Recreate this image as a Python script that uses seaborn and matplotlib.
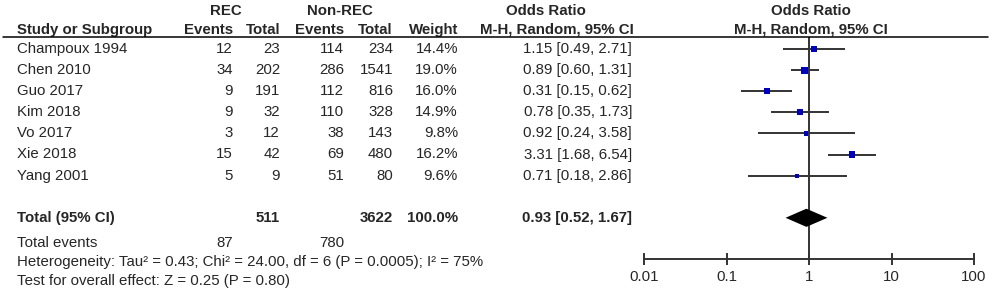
import numpy as np
import pandas as pd
import matplotlib
matplotlib.use("Agg")
import matplotlib.pyplot as plt
import matplotlib.transforms as mtransforms
from matplotlib.lines import Line2D
import seaborn as sns

# study-level data
studies = ["Champoux 1994", "Chen 2010", "Guo 2017", "Kim 2018", "Vo 2017", "Xie 2018", "Yang 2001"]
rec_events = [12, 34, 9, 9, 3, 15, 5]
rec_total = [23, 202, 191, 32, 12, 42, 9]
non_events = [114, 286, 112, 110, 38, 69, 51]
non_total = [234, 1541, 816, 328, 143, 480, 80]
weights = [14.4, 19.0, 16.0, 14.9, 9.8, 16.2, 9.6]
odds = [1.15, 0.89, 0.31, 0.78, 0.92, 3.31, 0.71]
ci_low = [0.49, 0.60, 0.15, 0.35, 0.24, 1.68, 0.18]
ci_high = [2.71, 1.31, 0.62, 1.73, 3.58, 6.54, 2.86]

# pooled result
pooled_or, pooled_low, pooled_high = 0.93, 0.52, 1.67
total_rec, total_non = 511, 3622
total_weight = 100.0
events_rec, events_non = 87, 780
heterogeneity = "Heterogeneity: Tau\u00b2 = 0.43; Chi\u00b2 = 24.00, df = 6 (P = 0.0005); I\u00b2 = 75%"
overall_effect = "Test for overall effect: Z = 0.25 (P = 0.80)"

xticks = [0.01, 0.1, 1, 10, 100]
xtick_labels = ["0.01", "0.1", "1", "10", "100"]

df = pd.DataFrame({"study": studies, "row": np.arange(len(studies)),
                   "OR": odds, "lo": ci_low, "hi": ci_high, "weight": weights})

sns.set_theme(style="white")
plt.rcParams["font.family"] = ["Liberation Sans", "DejaVu Sans"]
FS = 10.8
W, H = 992, 299

fig = plt.figure(figsize=(W / 100, H / 100), dpi=100)
ax = fig.add_axes([644 / W, 40 / H, 330 / W, 222 / H])

row0, step = 49, 21.1
def prow(py):
    # pixel y -> row units
    return (py - row0) / step

line_col = "#333333"
ax.hlines(df["row"], df["lo"], df["hi"], color=line_col, lw=1.4, zorder=2)
sns.scatterplot(data=df, x="OR", y="row", size="weight", sizes=(9, 26),
                marker="s", color="#0000BB", linewidth=0, legend=False, ax=ax, zorder=3)

# pooled diamond
total_row = 8
dh = 0.43
ax.fill([pooled_low, pooled_or, pooled_high, pooled_or],
        [total_row, total_row - dh, total_row, total_row + dh], color="black", lw=0, zorder=3)

ax.axvline(1, color=line_col, lw=1.4, zorder=1)
ax.set_xscale("log")
ax.set_xlim(0.01, 100)
ax.set_ylim(prow(259), prow(37))
ax.set_xticks(xticks)
ax.set_xticklabels(xtick_labels, fontsize=FS)
ax.minorticks_off()
ax.set_yticks([])
ax.set_xlabel("")
ax.set_ylabel("")
for s in ["top", "left", "right"]:
    ax.spines[s].set_visible(False)
ax.spines["bottom"].set_color(line_col)
ax.spines["bottom"].set_linewidth(1.4)
ax.tick_params(axis="x", direction="inout", length=8, width=1.4, color=line_col, pad=4, bottom=True)
ax.patch.set_alpha(0)

# header rule
fig.add_artist(Line2D([3 / W, 988 / W], [1 - 37 / H, 1 - 37 / H], color="black", lw=1.1))

tr = mtransforms.blended_transform_factory(fig.transFigure, ax.transData)
def txt(px, row, s, ha="right", bold=False):
    ax.text(px / W, row, s, transform=tr, ha=ha, va="center", fontsize=FS,
            fontweight="bold" if bold else "normal", clip_on=False)

# headers
h1, h2 = prow(11), prow(30)
txt(226, h1, "REC", "center", True)
txt(340, h1, "Non-REC", "center", True)
txt(546, h1, "Odds Ratio", "center", True)
txt(811, h1, "Odds Ratio", "center", True)
txt(17, h2, "Study or Subgroup", "left", True)
txt(233, h2, "Events", bold=True)
txt(280, h2, "Total", bold=True)
txt(344, h2, "Events", bold=True)
txt(393, h2, "Total", bold=True)
txt(458, h2, "Weight", bold=True)
txt(557, h2, "M-H, Random, 95% CI", "center", True)
txt(811, h2, "M-H, Random, 95% CI", "center", True)

# study rows
for i, name in enumerate(studies):
    txt(17, i, name, "left")
    txt(233, i, str(rec_events[i]))
    txt(280, i, str(rec_total[i]))
    txt(344, i, str(non_events[i]))
    txt(393, i, str(non_total[i]))
    txt(458, i, f"{weights[i]:.1f}%")
    txt(632, i, f"{odds[i]:.2f} [{ci_low[i]:.2f}, {ci_high[i]:.2f}]")

# totals
txt(17, total_row, "Total (95% CI)", "left", True)
txt(280, total_row, str(total_rec), bold=True)
txt(393, total_row, str(total_non), bold=True)
txt(458, total_row, f"{total_weight:.1f}%", bold=True)
txt(632, total_row, f"{pooled_or:.2f} [{pooled_low:.2f}, {pooled_high:.2f}]", bold=True)
txt(17, prow(243), "Total events", "left")
txt(233, prow(243), str(events_rec))
txt(344, prow(243), str(events_non))
txt(17, prow(262), heterogeneity, "left")
txt(17, prow(281), overall_effect, "left")

fig.savefig("out.png", dpi=100, facecolor="white")
